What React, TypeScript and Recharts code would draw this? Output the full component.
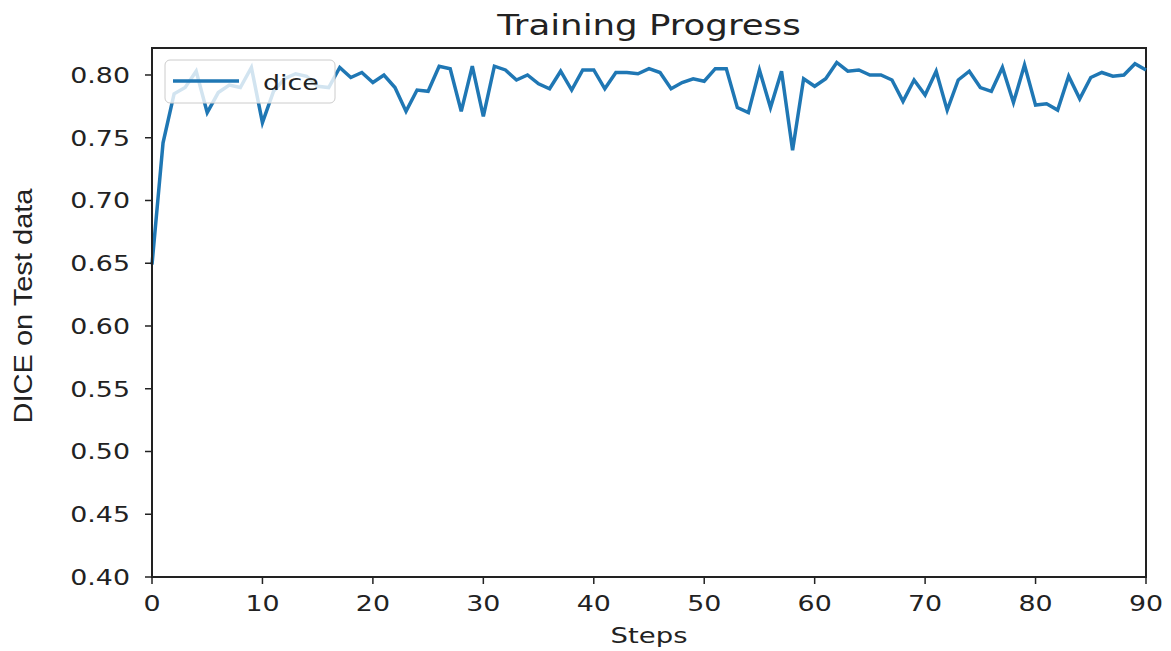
import { LineChart, Line, XAxis, YAxis, ReferenceArea } from "recharts";

// DICE score per training step
const dice = [
  0.649, 0.746, 0.785, 0.79, 0.803, 0.77, 0.786, 0.792, 0.79, 0.806,
  0.762, 0.787, 0.797, 0.801, 0.799, 0.791, 0.79, 0.806, 0.798, 0.802,
  0.794, 0.8, 0.79, 0.771, 0.788, 0.787, 0.807, 0.805, 0.771, 0.807,
  0.767, 0.807, 0.804, 0.796, 0.8, 0.793, 0.789, 0.803, 0.788, 0.804,
  0.804, 0.789, 0.802, 0.802, 0.801, 0.805, 0.802, 0.789, 0.794, 0.797,
  0.795, 0.805, 0.805, 0.774, 0.77, 0.804, 0.774, 0.803, 0.74, 0.797,
  0.791, 0.797, 0.81, 0.803, 0.804, 0.8, 0.8, 0.796, 0.779, 0.796,
  0.784, 0.803, 0.772, 0.796, 0.803, 0.79, 0.787, 0.806, 0.778, 0.808,
  0.776, 0.777, 0.772, 0.799, 0.781, 0.798, 0.802, 0.799, 0.8, 0.809,
  0.804,
];

const xTicks = [0, 10, 20, 30, 40, 50, 60, 70, 80, 90];
const yTicks = [0.4, 0.45, 0.5, 0.55, 0.6, 0.65, 0.7, 0.75, 0.8];
const yTop = 0.8215;

const data = dice.map((v, i) => ({ step: i, dice: v }));

const BLUE = "#1f77b4";
const INK = "#222";
const FONT = "DejaVu Sans, sans-serif";
const STRETCH = 1.22;

function XTick({ x, y, payload }: any) {
  return (
    <g transform={`translate(${x},${y}) scale(${STRETCH},1)`}>
      <text x={0} y={0} dy="0.71em" textAnchor="middle" fontSize={22} fontFamily={FONT} fill={INK}>
        {payload.value}
      </text>
    </g>
  );
}

function YTick({ x, y, payload }: any) {
  return (
    <g transform={`translate(${x},${y}) scale(${STRETCH},1)`}>
      <text x={0} y={0} dy="0.36em" textAnchor="end" fontSize={22} fontFamily={FONT} fill={INK}>
        {Number(payload.value).toFixed(2)}
      </text>
    </g>
  );
}

export default function App() {
  return (
    <div style={{ position: "relative", width: 1171, height: 651, background: "#fff" }}>
      <style>{`body{margin:0}`}</style>
      <LineChart
        width={1171}
        height={651}
        data={data}
        margin={{ top: 48, right: 25, left: 0, bottom: 0 }}
      >
        <XAxis
          dataKey="step"
          type="number"
          domain={[0, 90]}
          ticks={xTicks}
          tickSize={7}
          tickMargin={11}
          height={74}
          stroke={INK}
          axisLine={{ stroke: INK, strokeWidth: 2 }}
          tickLine={{ stroke: INK, strokeWidth: 1.5 }}
          tick={<XTick />}
          interval={0}
        />
        <YAxis
          type="number"
          domain={[0.4, yTop]}
          allowDataOverflow
          ticks={yTicks}
          tickSize={7}
          tickMargin={15}
          width={152}
          stroke={INK}
          axisLine={{ stroke: INK, strokeWidth: 2 }}
          tickLine={{ stroke: INK, strokeWidth: 1.5 }}
          tick={<YTick />}
          interval={0}
        />
        <ReferenceArea x1={0} x2={90} y1={0.4} y2={yTop} fill="none" stroke={INK} strokeWidth={2} />
        <Line
          type="linear"
          dataKey="dice"
          name="dice"
          stroke={BLUE}
          strokeWidth={3.5}
          dot={false}
          isAnimationActive={false}
        />
      </LineChart>
      <svg
        width={1171}
        height={651}
        style={{ position: "absolute", left: 0, top: 0, pointerEvents: "none" }}
      >
        {/* legend box, semi-transparent like matplotlib */}
        <rect x={165} y={60} width={170} height={43} rx={5} fill="#fff" fillOpacity={0.8} stroke="#cccccc" />
        <line x1={173} y1={81} x2={239} y2={81} stroke={BLUE} strokeWidth={3.5} />
        <g transform={`translate(263,82) scale(${STRETCH},1)`}>
          <text x={0} y={0} dy="0.36em" fontSize={22} fontFamily={FONT} fill={INK}>
            dice
          </text>
        </g>
        <g transform={`translate(649,35) scale(1.27,1)`}>
          <text x={0} y={0} textAnchor="middle" fontSize={28} fontFamily={FONT} fill={INK}>
            Training Progress
          </text>
        </g>
        <g transform={`translate(649,643) scale(1.25,1)`}>
          <text x={0} y={0} textAnchor="middle" fontSize={22} fontFamily={FONT} fill={INK}>
            Steps
          </text>
        </g>
        <text
          x={0}
          y={0}
          transform="translate(32,306) rotate(-90)"
          textAnchor="middle"
          fontSize={26}
          fontFamily="Liberation Sans, Arial, sans-serif"
          textLength={235}
          lengthAdjust="spacingAndGlyphs"
          fill={INK}
        >
          DICE on Test data
        </text>
      </svg>
    </div>
  );
}
